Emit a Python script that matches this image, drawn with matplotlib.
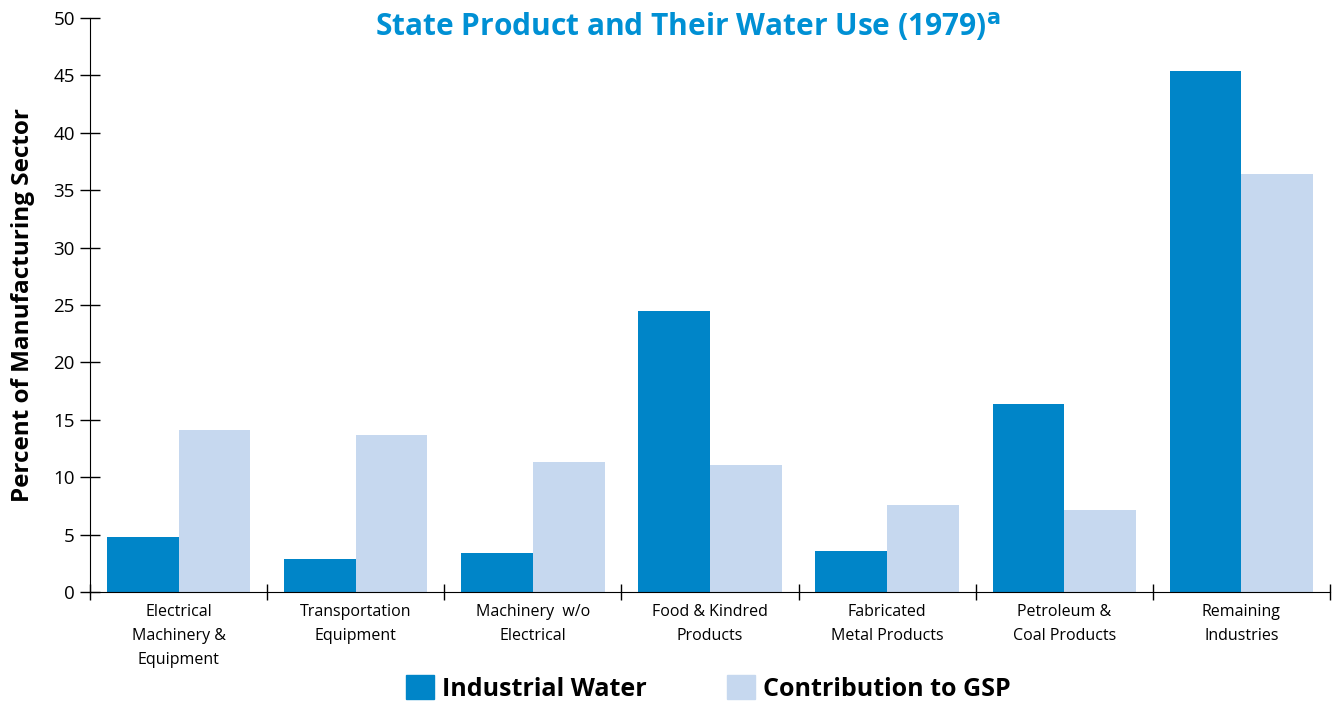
import numpy as np
import matplotlib.pyplot as plt
from matplotlib.patches import Patch

# data
categories = ["Electrical\nMachinery &\nEquipment", "Transportation\nEquipment", "Machinery  w/o\nElectrical",
              "Food & Kindred\nProducts", "Fabricated\nMetal Products", "Petroleum &\nCoal Products",
              "Remaining\nIndustries"]
industrial_water = [4.8, 2.9, 3.4, 24.5, 3.6, 16.4, 45.4]
contribution_gsp = [14.1, 13.7, 11.3, 11.1, 7.6, 7.1, 36.4]
yticks = [0, 5, 10, 15, 20, 25, 30, 35, 40, 45, 50]

dark = "#0085c8"
light = "#c6d8ef"
title_blue = "#0090d4"

plt.rcParams['font.family'] = ['Open Sans', 'DejaVu Sans']

fig = plt.figure(figsize=(13.32, 7.02), dpi=100)
ax = fig.add_axes([0.0676, 0.1567, 0.9309, 0.8177])

x = np.arange(len(categories))
w = 0.405
ax.bar(x - w / 2, industrial_water, w, color=dark)
ax.bar(x + w / 2, contribution_gsp, w, color=light)

ax.set_xlim(-0.5, len(categories) - 0.5)
ax.set_ylim(0, 50)
ax.set_yticks(yticks)
ax.tick_params(axis='y', direction='inout', length=14, width=1, labelsize=13.5, pad=4)

ax.set_xticks(x)
ax.set_xticklabels(categories, fontsize=11.5, linespacing=1.65, va='top')
ax.tick_params(axis='x', length=0, pad=9)
ax.set_xticks(np.arange(-0.5, len(categories), 1), minor=True)
ax.tick_params(axis='x', which='minor', direction='inout', length=12, width=1)

for s in ['top', 'right']:
    ax.spines[s].set_visible(False)

ax.set_ylabel("Percent of Manufacturing Sector", fontsize=17.5, fontweight='bold', labelpad=13)

fig.text(0.516, 0.962, r"State Product and Their Water Use (1979)$^{\mathbf{a}}$", color=title_blue,
         fontsize=21.5, fontweight='bold', ha='center', va='center')

handles = [Patch(color=dark, label="Industrial Water"), Patch(color=light, label="Contribution to GSP")]
fig.legend(handles=handles, loc='center', bbox_to_anchor=(0.532, 0.019), ncol=2, frameon=False,
           prop={'weight': 'bold', 'size': 18}, handlelength=1.1, handleheight=1.1,
           handletextpad=0.35, columnspacing=3.2)

fig.savefig("out.png", dpi=100)
